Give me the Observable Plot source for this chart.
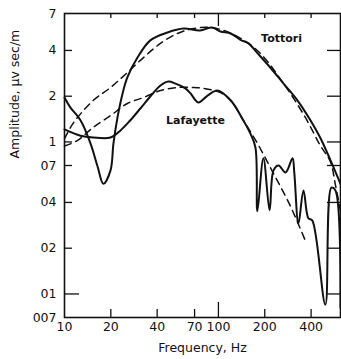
<!DOCTYPE html>
<html><head><meta charset="utf-8">
<script src="https://cdn.jsdelivr.net/npm/d3@7"></script>
<script src="https://cdn.jsdelivr.net/npm/@observablehq/plot@0.6"></script>
<style>html,body{margin:0;padding:0;background:#fff} svg{display:block}</style>
</head><body><div id="chart"></div>
<script>
// Tick values and labels (as printed)
const xTicks = [10, 20, 40, 70, 100, 200, 400];
const xTickLabels = ["10", "20", "40", "70", "100", "200", "400"];
const yTicks = [7, 4, 2, 1, 0.7, 0.4, 0.2, 0.1, 0.07];
const yTickLabels = ["7", "4", "2", "1", "07", "04", "02", "01", "007"];

// Tottori (solid)
const tottoriFreq = [10, 10.9, 12.7, 14.75, 16.4, 17.9, 19.9, 20.8, 22.1, 23.8, 25.6, 29.8, 36.1, 46.7, 59.3, 75.9, 91, 103, 120, 139, 157, 178, 217, 265, 326, 396, 458, 534, 621];
const tottoriAmp  = [1.96, 1.69, 1.39, 0.98, 0.69, 0.53, 0.65, 0.98, 1.45, 2.07, 2.66, 3.59, 4.66, 5.25, 5.57, 5.41, 5.66, 5.33, 5.17, 4.7, 4.45, 3.87, 3.09, 2.42, 1.88, 1.39, 1.07, 0.76, 0.53];

// Lafayette (solid)
const lafayetteFreq = [10, 12.7, 15.4, 19.9, 23.1, 26.8, 31.1, 36.1, 42, 47.3, 52.6, 61, 65.8, 74, 85, 98.5, 120, 145, 161, 174, 179, 196, 215, 228, 246, 273, 303, 311, 331, 357, 384, 407, 495, 542, 576, 621];
const lafayetteAmp  = [1.21, 1.10, 1.07, 1.07, 1.19, 1.39, 1.66, 1.99, 2.35, 2.50, 2.42, 2.25, 2.09, 1.82, 2.02, 2.18, 1.88, 1.39, 1.14, 0.92, 0.35, 0.78, 0.355, 0.65, 0.70, 0.63, 0.78, 0.63, 0.29, 0.48, 0.315, 0.305, 0.085, 0.50, 0.48, 0.081];

// Fitted curves (dashed)
const tottoriFitFreq = [10, 11.4, 15.4, 19.9, 25.6, 32.6, 42, 54.2, 68.8, 89, 120, 179, 265, 367, 458, 534, 576, 621];
const tottoriFitAmp  = [1.05, 1.33, 1.88, 2.28, 2.86, 3.59, 4.45, 5.17, 5.57, 5.66, 5.2, 4.0, 2.42, 1.45, 0.95, 0.74, 0.52, 0.35];
const lafayetteFitFreq = [10, 12.1, 15.4, 19.9, 25.6, 32.6, 42, 54.2, 68.8, 80, 103, 120, 145, 179, 228, 293, 367];
const lafayetteFitAmp  = [0.94, 1.02, 1.25, 1.49, 1.79, 1.96, 2.18, 2.28, 2.28, 2.25, 2.11, 1.88, 1.39, 0.98, 0.62, 0.38, 0.224];

// Curve labels
const curveNames = ["Tottori", "Lafayette"];
const curveLabelFreq = [257, 71];
const curveLabelAmp = [4.8, 1.39];

const toRows = (fs, as) => fs.map((f, i) => ({f, a: as[i]}));
const tottori = toRows(tottoriFreq, tottoriAmp);
const lafayette = toRows(lafayetteFreq, lafayetteAmp);
const tottoriFit = toRows(tottoriFitFreq, tottoriFitAmp);
const lafayetteFit = toRows(lafayetteFitFreq, lafayetteFitAmp);
const labels = curveNames.map((t, i) => ({t, f: curveLabelFreq[i], a: curveLabelAmp[i]}));
const xLab = xTicks.map((v, i) => ({v, t: xTickLabels[i]}));
const yLab = yTicks.map((v, i) => ({v, t: yTickLabels[i]}));

const W = 341, H = 359, mL = 64, mR = 1, mT = 13, mB = 42;
const fw = W - mL - mR, fh = H - mT - mB;
const innerX = xTicks.filter(d => d !== 10);
const innerY = yTicks.filter(d => d !== 7 && d !== 0.07);

const chart = Plot.plot({
  width: W, height: H,
  marginLeft: mL, marginRight: mR, marginTop: mT, marginBottom: mB,
  style: {fontFamily: "DejaVu Sans", fontSize: "12px", background: "#fff", color: "#111"},
  x: {type: "log", domain: [10, 621], axis: null},
  y: {type: "log", domain: [0.07, 7], axis: null},
  marks: [
    Plot.frame({stroke: "#111", strokeWidth: 1.6}),
    // bottom ticks
    Plot.tickX(innerX.filter(d => d !== 100), {x: d => d, insetTop: fh - 8, stroke: "#111", strokeWidth: 1.3}),
    Plot.tickX(innerX.filter(d => d === 100), {x: d => d, insetTop: fh - 15, stroke: "#111", strokeWidth: 1.3}),
    // top ticks
    Plot.tickX(innerX.filter(d => d !== 100), {x: d => d, insetBottom: fh - 5, stroke: "#111", strokeWidth: 1.3}),
    Plot.tickX(innerX.filter(d => d === 100), {x: d => d, insetBottom: fh - 13, stroke: "#111", strokeWidth: 1.3}),
    // left ticks
    Plot.tickY(innerY.filter(d => d !== 0.1), {y: d => d, insetRight: fw - 8, stroke: "#111", strokeWidth: 1.3}),
    Plot.tickY(innerY.filter(d => d === 0.1), {y: d => d, insetRight: fw - 15, stroke: "#111", strokeWidth: 1.3}),
    // right ticks
    Plot.tickY(innerY, {y: d => d, insetLeft: fw - 13, stroke: "#111", strokeWidth: 1.3}),
    // tick labels
    Plot.text(xLab, {x: "v", text: "t", frameAnchor: "bottom", dy: 13, fontSize: 12.5, fill: "#111"}),
    Plot.text(yLab, {y: "v", text: "t", frameAnchor: "left", textAnchor: "end", dx: -8, fontSize: 12.5, fill: "#111"}),
    Plot.line(tottoriFit, {x: "f", y: "a", curve: "catmull-rom", stroke: "#111", strokeWidth: 1.5, strokeDasharray: "7,5"}),
    Plot.line(lafayetteFit, {x: "f", y: "a", curve: "catmull-rom", stroke: "#111", strokeWidth: 1.5, strokeDasharray: "7,5"}),
    Plot.line(tottori, {x: "f", y: "a", curve: "catmull-rom", stroke: "#111", strokeWidth: 2}),
    Plot.line(lafayette, {x: "f", y: "a", curve: "catmull-rom", stroke: "#111", strokeWidth: 2}),
    Plot.text(labels, {x: "f", y: "a", text: "t", fontSize: 11, fontWeight: "bold", fill: "#111"}),
    Plot.text(["Frequency, Hz"], {frameAnchor: "bottom", dy: 34, fontSize: 12.5, fill: "#111"}),
    Plot.text(["Amplitude, μv sec/m"], {frameAnchor: "left", dx: -50, dy: -7, rotate: -90, fontSize: 12.5, fill: "#111"})
  ]
});
document.getElementById("chart").appendChild(chart);
</script>
</body></html>
